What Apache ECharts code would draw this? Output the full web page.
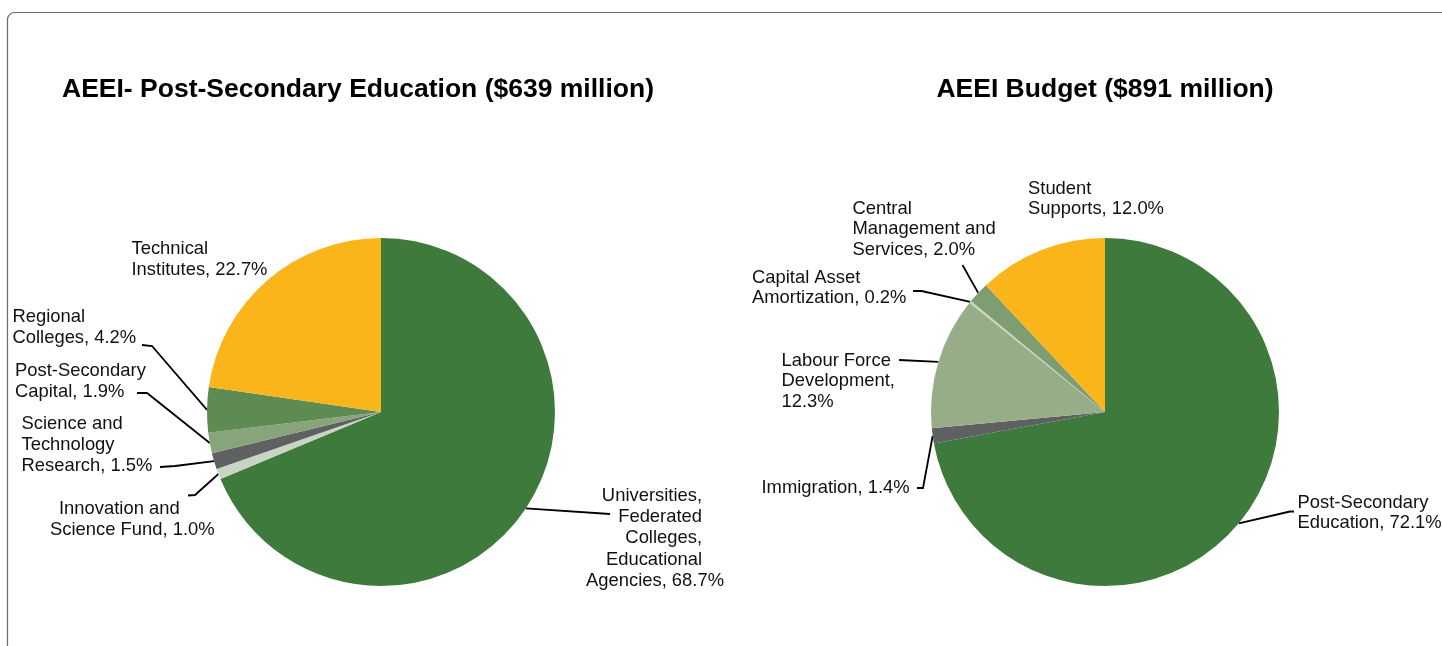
<!DOCTYPE html>
<html><head><meta charset="utf-8">
<script src="https://cdn.jsdelivr.net/npm/echarts@6/dist/echarts.min.js"></script>
<style>html,body{margin:0;padding:0;background:#fff}#c{width:1442px;height:646px}</style>
</head><body><div id="c"></div>
<script>
// ---- data ----
const leftTitle = 'AEEI- Post-Secondary Education ($639 million)';
const rightTitle = 'AEEI Budget ($891 million)';
const leftCategories = ['Universities,\nFederated\nColleges,\nEducational\nAgencies', 'Innovation and\nScience Fund', 'Science and\nTechnology\nResearch', 'Post-Secondary\nCapital', 'Regional\nColleges', 'Technical\nInstitutes'];
const leftValues = [68.7, 1.0, 1.5, 1.9, 4.2, 22.7];
const rightCategories = ['Post-Secondary\nEducation', 'Immigration', 'Labour Force\nDevelopment', 'Capital Asset\nAmortization', 'Central\nManagement and\nServices', 'Student\nSupports'];
const rightValues = [72.1, 1.4, 12.3, 0.2, 2.0, 12.0];

// ---- styles ----
const leftColors = ['#3d7a3b', '#c9d5c2', '#5f6062', '#87a47b', '#5e8b51', '#fab51b'];
const rightColors = ['#3d7a3b', '#5f6062', '#97ad88', '#c9d5c2', '#7e9e72', '#fab51b'];
const FONT = '"Liberation Sans", Arial, Helvetica, sans-serif';
const LABEL_SIZE = 18.4;
const PIE_R = 174;
const leftCenter = [381, 412];
const rightCenter = [1105, 412];

// label placement: x = left edge of block, y = centre of first line
const leftLabelPos = [
  {x: 586, y: 495.5, lh: 21.4, sep: ', ', styles: ['r','r','r','r','n'], leader: [[610, 514]]},
  {x: 50, y: 508.5, lh: 21, sep: ', ', styles: ['p','n'], leader: [[195, 495], [188, 495.5]]},
  {x: 21.5, y: 423.5, lh: 21, sep: ', ', styles: ['n','n','n'], leader: [[175, 466], [160, 467]]},
  {x: 15, y: 370.5, lh: 21, sep: ', ', styles: ['n','n'], leader: [[147, 393], [137, 393]]},
  {x: 12.5, y: 316.5, lh: 21, sep: ', ', styles: ['n','n'], leader: [[152, 346], [142, 345]]},
  {x: 131.5, y: 248.5, lh: 21, sep: ', ', styles: ['n','n'], leader: null}
];
const rightLabelPos = [
  {x: 1297.5, y: 502.5, lh: 20.3, sep: ', ', styles: ['n','n'], leader: [[1290, 511.5], [1294, 511.5]]},
  {x: 761.5, y: 487.5, lh: 20.3, sep: ', ', styles: ['n'], leader: [[923, 488], [917, 488]]},
  {x: 781.5, y: 361, lh: 20.3, sep: ',\n', styles: ['n','n','n'], leader: [[899, 360]]},
  {x: 752, y: 278, lh: 20.3, sep: ', ', styles: ['n','n'], leader: [[921.5, 291], [913, 291]]},
  {x: 852.5, y: 209, lh: 20.3, sep: ', ', styles: ['n','n','n'], leader: [[962.5, 265]]},
  {x: 1028, y: 189, lh: 20.3, sep: ', ', styles: ['n','n'], leader: null}
];

function richFor(lh) {
  const base = {fontSize: LABEL_SIZE, fontFamily: FONT, color: '#111', lineHeight: lh};
  return {
    n: Object.assign({}, base, {align: 'left'}),
    r: Object.assign({}, base, {align: 'right', padding: [0, 22, 0, 0]}),
    p: Object.assign({}, base, {align: 'left', padding: [0, 0, 0, 9]})
  };
}

function edgePoint(values, idx, center) {
  const total = values.reduce((a, b) => a + b, 0);
  let cum = 0;
  for (let i = 0; i < idx; i++) cum += values[i];
  const a = 2 * Math.PI * (cum + values[idx] / 2) / total;
  return [center[0] + PIE_R * Math.sin(a), center[1] - PIE_R * Math.cos(a)];
}

function makeSeries(names, values, colors, pos, center) {
  return {
    type: 'pie',
    center: center,
    radius: PIE_R,
    startAngle: 90,
    clockwise: true,
    avoidLabelOverlap: false,
    animation: false,
    silent: true,
    itemStyle: {borderWidth: 0},
    label: {
      show: true,
      position: 'outside',
      formatter: function (p) {
        const cfg = pos[p.dataIndex];
        const lines = (names[p.dataIndex] + cfg.sep + values[p.dataIndex].toFixed(1) + '%').split('\n');
        return lines.map((t, i) => '{' + cfg.styles[i] + '|' + t + '}').join('\n');
      },
      rich: richFor(pos[0].lh)
    },
    labelLine: {show: true, lineStyle: {color: '#000', width: 1.8}},
    labelLayout: function (params) {
      const cfg = pos[params.dataIndex];
      const out = {x: cfg.x, y: cfg.y - cfg.lh / 2, align: 'left', verticalAlign: 'top'};
      if (cfg.leader) {
        const pts = [edgePoint(values, params.dataIndex, center)].concat(cfg.leader);
        while (pts.length < 3) pts.push(pts[pts.length - 1].slice());
        out.labelLinePoints = pts;
      }
      return out;
    },
    data: names.map((n, i) => ({
      name: n,
      value: values[i],
      itemStyle: {color: colors[i]},
      label: {rich: richFor(pos[i].lh)},
      labelLine: {show: !!pos[i].leader}
    }))
  };
}

const chart = echarts.init(document.getElementById('c'), null, {renderer: 'canvas'});
chart.setOption({
  backgroundColor: '#fff',
  animation: false,
  graphic: [
    {type: 'rect', silent: true, z: -10, shape: {x: 7.5, y: 12.5, width: 1600, height: 900, r: 7},
     style: {fill: 'none', stroke: '#6a6a6a', lineWidth: 1.2}},
    {type: 'text', silent: true, x: 358, y: 89.5,
     style: {text: leftTitle, fontSize: 26.5, fontWeight: 'bold', fontFamily: FONT, fill: '#000',
             textAlign: 'center', textVerticalAlign: 'middle', align: 'center', verticalAlign: 'middle'}},
    {type: 'text', silent: true, x: 1105, y: 89.5,
     style: {text: rightTitle, fontSize: 26.5, fontWeight: 'bold', fontFamily: FONT, fill: '#000',
             textAlign: 'center', textVerticalAlign: 'middle', align: 'center', verticalAlign: 'middle'}}
  ],
  series: [
    makeSeries(leftCategories, leftValues, leftColors, leftLabelPos, leftCenter),
    makeSeries(rightCategories, rightValues, rightColors, rightLabelPos, rightCenter)
  ]
});
</script></body></html>
